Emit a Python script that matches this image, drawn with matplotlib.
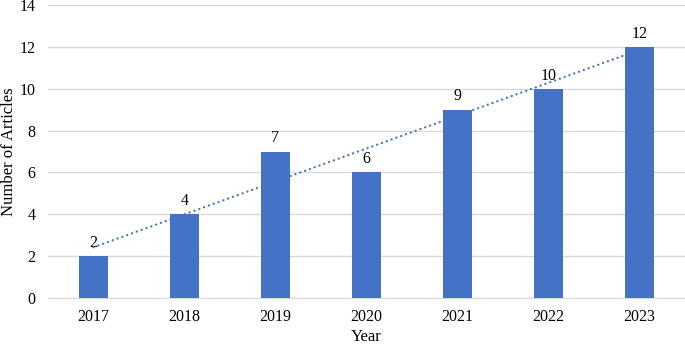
import numpy as np
import matplotlib
matplotlib.use('Agg')
import matplotlib.pyplot as plt

years = ['2017', '2018', '2019', '2020', '2021', '2022', '2023']
articles = [2, 4, 7, 6, 9, 10, 12]

plt.rcParams['font.family'] = ['Liberation Serif', 'DejaVu Serif']

fig = plt.figure(figsize=(6.85, 3.45), dpi=100)
ax = fig.add_axes([0.070, 0.136, 0.93, 0.8495])

x = np.arange(len(years))
bar_color = '#4472C4'
ax.bar(x, articles, width=0.31, color=bar_color, zorder=3)

for xi, v in zip(x, articles):
    ax.text(xi, v + 0.25, str(v), ha='center', va='bottom', fontsize=11.5, zorder=4)

# linear trend line
slope, intercept = np.polyfit(x, articles, 1)
ax.plot(x, slope * x + intercept, linestyle=(0, (0.1, 2.2)), color=bar_color,
        linewidth=1.6, dash_capstyle='round', zorder=4)

ax.set_xlim(-0.5, len(years) - 0.5)
ax.set_ylim(0, 14)
ax.set_yticks(range(0, 15, 2))
ax.set_xticks(x)
ax.set_xticklabels(years)
ax.yaxis.grid(True, color='#D9D9D9', linewidth=1)
ax.set_axisbelow(True)
for s in ['top', 'right', 'left']:
    ax.spines[s].set_visible(False)
ax.spines['bottom'].set_color('#D9D9D9')
ax.tick_params(axis='both', length=0, labelsize=11.5)
ax.tick_params(axis='x', pad=8)
ax.tick_params(axis='y', pad=9)
ax.set_xlabel('Year', fontsize=12, labelpad=3)
ax.set_ylabel('Number of Articles', fontsize=12, labelpad=2)

fig.savefig('out.png', dpi=100)
